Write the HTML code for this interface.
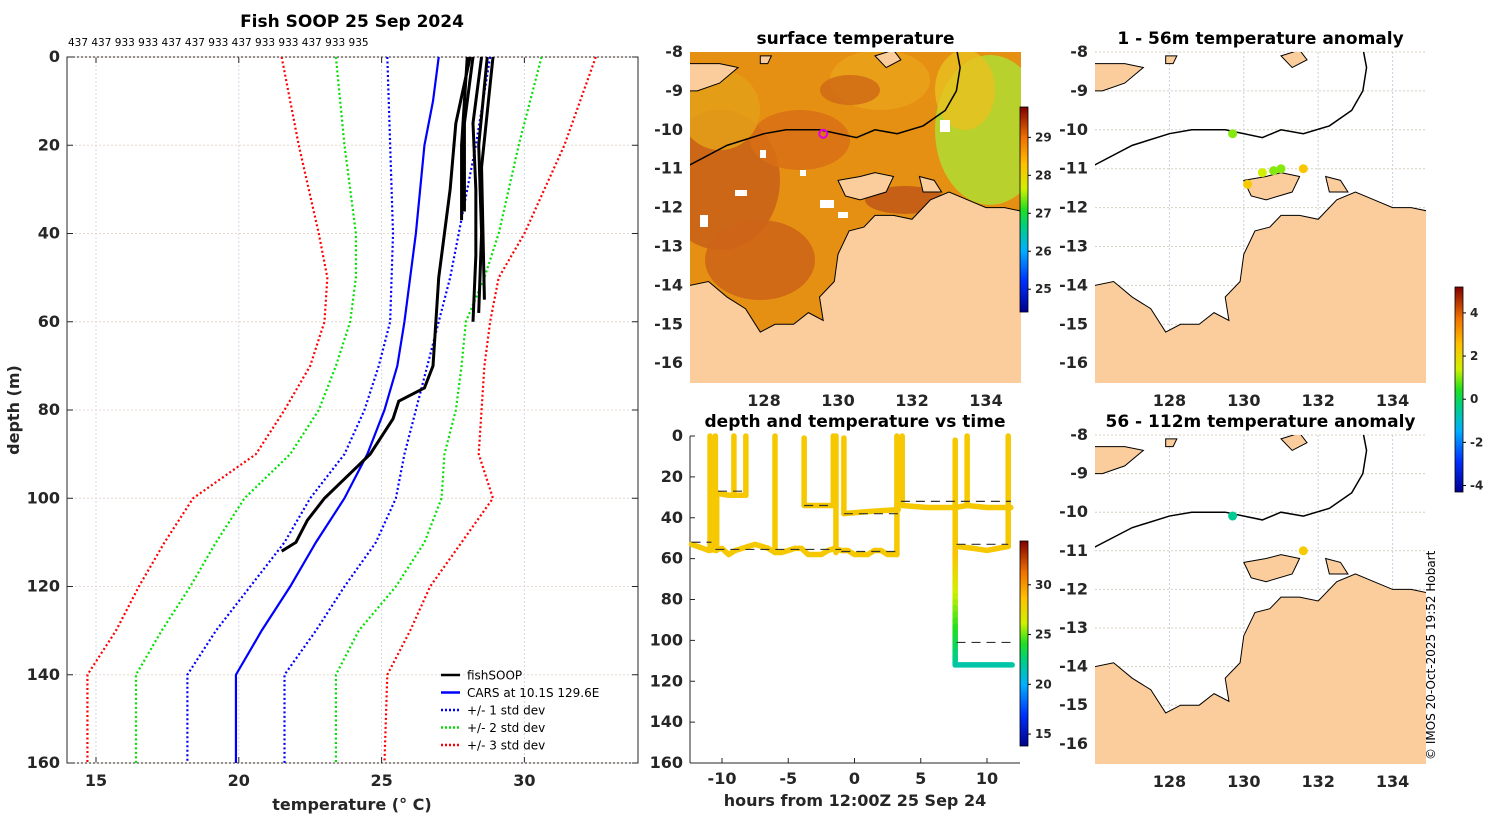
<!DOCTYPE html>
<html><head><meta charset="utf-8"><style>
body{margin:0;background:#fff;}
svg{font-family:"DejaVu Sans","Liberation Sans",sans-serif;}
.t{font-size:16px;font-weight:bold;fill:#262626;}
.ti{font-size:17px;font-weight:bold;fill:#000;}
.cb{font-size:12px;font-weight:bold;fill:#262626;}
</style></head><body>
<svg id="fig" width="1500" height="820" viewBox="0 0 1500 820">
<defs>
<linearGradient id="jet" x1="0" y1="1" x2="0" y2="0">
<stop offset="0" stop-color="#00008f"/><stop offset="0.15" stop-color="#0030ff"/><stop offset="0.3" stop-color="#00b0ff"/><stop offset="0.42" stop-color="#00d080"/><stop offset="0.5" stop-color="#20e020"/><stop offset="0.6" stop-color="#d0f000"/><stop offset="0.72" stop-color="#ffc000"/><stop offset="0.85" stop-color="#f07000"/><stop offset="1" stop-color="#800000"/>
</linearGradient>
<clipPath id="cm1"><rect x="690" y="52" width="331" height="331"/></clipPath>
<clipPath id="cm2"><rect x="1095" y="52" width="331" height="331"/></clipPath>
<clipPath id="cm3"><rect x="1095" y="435" width="331" height="329"/></clipPath>
</defs>
<g id="left"></g>
<g id="map1"></g>
<g id="map2"></g>
<g id="map3"></g>
<g id="tdp"></g>
<text x="1435" y="760" transform="rotate(-90 1435 760)" style="font-size:12px;fill:#000">© IMOS 20-Oct-2025 19:52 Hobart</text>
</svg>
<script>
// ---- profile data (depth m, temperature °C)
const depths=[0,10,20,30,40,50,60,70,80,90,100,110,120,130,140,150,160];
const carsMean=[27.0,26.8,26.5,26.35,26.2,26.0,25.8,25.55,25.1,24.5,23.7,22.7,21.8,20.8,19.9,19.9,19.9];
const minus1=[25.2,25.25,25.3,25.35,25.4,25.35,25.3,24.9,24.4,23.7,22.5,21.6,20.4,19.2,18.2,18.2,18.2];
const plus1=[28.8,28.55,28.3,28.0,27.7,27.4,27.0,26.6,26.2,25.8,25.5,24.8,23.7,22.7,21.6,21.6,21.6];
const minus2=[23.4,23.55,23.7,23.9,24.1,24.1,23.9,23.4,22.8,21.8,20.2,19.2,18.3,17.3,16.4,16.4,16.4];
const plus2=[30.6,30.2,29.8,29.45,29.1,28.6,27.95,27.8,27.6,27.2,27.1,26.5,25.5,24.2,23.4,23.4,23.4];
const minus3=[21.5,21.8,22.1,22.45,22.8,23.1,23.0,22.5,21.6,20.6,18.4,17.4,16.5,15.7,14.7,14.7,14.7];
const plus3=[32.5,31.95,31.4,30.7,30.0,29.1,28.8,28.6,28.5,28.4,28.9,27.8,26.7,26.0,25.2,25.15,25.1];
const fishDeep=[[0,28.1],[15,27.6],[30,27.4],[40,27.2],[50,27.0],[60,26.9],[70,26.8],[75,26.5],[78,25.6],[82,25.4],[90,24.6],[95,23.8],[100,23.0],[105,22.4],[110,22.0],[112,21.5]];
const fishShallow=[[[0,28.0],[10,27.9],[20,27.8],[30,27.8],[37,27.8]],[[0,28.5],[15,28.2],[30,28.3],[45,28.3],[60,28.2]],[[0,28.7],[20,28.4],[40,28.5],[58,28.4]],[[0,28.2],[15,27.9],[35,27.9]],[[0,28.9],[25,28.5],[55,28.6]]];
const headerIds="437 437 933 933 437 437 933 437 933 933 437 933 935";
const tempTicks=[15,20,25,30];
const depthTicks=[0,20,40,60,80,100,120,140,160];
// ---- depth vs time data (hours, depth)
const traceMain=[[-12.3,53],[-11,56],[-10,55],[-9.5,58],[-9,56],[-8,54],[-7.5,53],[-6.5,55],[-6,57],[-5.5,57],[-4.5,55],[-4,55],[-3.5,58],[-2.5,58],[-2,56],[-1.5,55],[-1,56],[-0.5,56],[0,58],[1,58],[1.5,56],[2,56],[2.5,58],[3.2,58]];
const traceSpikes=[[-10.9,0,56],[-10.5,0,56],[-6,0,57],[-1.4,0,57],[3.2,0,58],[3.6,0,34],[-9.1,0,29],[-8.2,0,29],[-10.4,28,56],[-3.8,1,34],[-1.6,0,34],[-0.8,1,38],[8.5,0,34],[11.6,0,54],[7.6,2,57]];
const traceShelf=[[[-10.4,28],[-9.5,29],[-8.2,29]],[[-3.8,34],[-2.5,34],[-1.6,34]],[[-0.8,38],[1,37],[3.3,36]],[[3.6,34],[5.5,35],[7.6,35],[8.5,34],[10,35],[11.8,35]],[[7.7,54],[9,55],[10,56],[11.6,54]]];
const traceDeep=[[7.6,57],[7.6,112],[11.9,112]];
const dashLines=[[-12.3,-10.8,52],[-10.3,-8.3,27],[-10.5,-1,55.5],[-1,3.2,56.5],[-3.8,-2,34],[-0.8,3.3,38],[3.5,11.8,32],[7.7,11.6,53],[7.7,11.8,101]];
const hourTicks=[-10,-5,0,5,10];
// ---- map data (lon, lat)
const mainland=[[125.5,-14.1],[126.5,-13.9],[127.0,-14.3],[127.5,-14.6],[127.9,-15.2],[128.3,-15.0],[128.8,-15.0],[129.2,-14.7],[129.6,-14.9],[129.5,-14.3],[129.9,-13.9],[130.0,-13.2],[130.3,-12.6],[130.7,-12.5],[131.0,-12.2],[131.5,-12.2],[132.0,-12.3],[132.5,-11.8],[133.0,-11.6],[133.5,-11.8],[134.0,-12.0],[134.5,-12.0],[135,-12.1],[135,-17],[125.5,-17]];
const tiwi=[[130.0,-11.3],[130.6,-11.2],[131.0,-11.1],[131.5,-11.2],[131.3,-11.6],[130.6,-11.8],[130.2,-11.7]];
const cobourg=[[132.2,-11.2],[132.6,-11.3],[132.8,-11.6],[132.3,-11.6]];
const timor=[[125.5,-8.3],[126.8,-8.3],[127.3,-8.4],[126.8,-8.8],[126.2,-9.0],[125.5,-9.0]];
const islands=[[[127.9,-8.1],[128.2,-8.1],[128.1,-8.3],[127.9,-8.3]],[[131.0,-8.1],[131.5,-7.95],[131.7,-8.2],[131.3,-8.4]]];
const bathy=[[125.5,-11.0],[126,-10.9],[127,-10.4],[128,-10.1],[128.6,-10.0],[129.5,-10.0],[130.5,-10.2],[131.0,-10.0],[131.6,-10.1],[132.3,-9.9],[132.9,-9.5],[133.2,-9.0],[133.3,-8.4],[133.2,-7.9]];
const anomTop=[[129.7,-10.1,1.0],[130.1,-11.4,2.3],[130.5,-11.1,1.4],[130.8,-11.05,1.0],[131.0,-11.0,1.0],[131.6,-11.0,2.4]];
const anomBot=[[129.7,-10.1,-0.5],[131.6,-11.0,2.3]];
const lonTicks=[128,130,132,134];
const latTicks=[-8,-9,-10,-11,-12,-13,-14,-15,-16];
const sstTicks=[29,28,27,26,25];
const anomTicks=[4,2,0,-2,-4];
const tdTicks=[30,25,20,15];

const NS="http://www.w3.org/2000/svg";
function E(tag,attrs,parent,txt){const e=document.createElementNS(NS,tag);for(const k in attrs)e.setAttribute(k,attrs[k]);if(txt!==undefined)e.textContent=txt;parent.appendChild(e);return e;}
function jet(v,lo,hi){const t=Math.max(0,Math.min(1,(v-lo)/(hi-lo)));const st=[[0,[0,0,143]],[.15,[0,48,255]],[.3,[0,176,255]],[.42,[0,208,128]],[.5,[32,224,32]],[.6,[208,240,0]],[.72,[255,192,0]],[.85,[240,112,0]],[1,[128,0,0]]];for(let i=1;i<st.length;i++){if(t<=st[i][0]){const a=st[i-1],b=st[i],f=(t-a[0])/(b[0]-a[0]);return 'rgb('+a[1].map((c,j)=>Math.round(c+(b[1][j]-c)*f)).join(',')+')';}}return 'rgb(128,0,0)';}

// ===== LEFT PANEL
(function(){
const g=document.getElementById('left');
const X0=67,X1=638,Y0=57,Y1=763;
const xT=t=>96+(t-15)*28.56, yD=d=>Y0+d*(Y1-Y0)/160;
E('text',{x:352,y:27,'text-anchor':'middle',class:'ti',},g,'Fish SOOP 25 Sep 2024');
E('text',{x:68,y:46,style:'font-size:10.5px;fill:#000',},g,headerIds);
E('rect',{x:X0,y:Y0,width:X1-X0,height:Y1-Y0,fill:'#fff',stroke:'#262626','stroke-width':1,},g);
tempTicks.forEach(t=>{const x=xT(t);
 E('line',{x1:x,y1:Y0,x2:x,y2:Y1,stroke:'#d0d8e8','stroke-width':1,'stroke-dasharray':'2 2'},g);
 E('line',{x1:x,y1:Y1,x2:x,y2:Y1-6,stroke:'#262626'},g);E('line',{x1:x,y1:Y0,x2:x,y2:Y0+6,stroke:'#262626'},g);
 const tl=E('text',{x:x,y:Y1+23,'text-anchor':'middle',class:'t'},g,String(t));
 
 });
depthTicks.forEach(d=>{const y=yD(d);
 E('line',{x1:X0,y1:y,x2:X1,y2:y,stroke:'#e8d8d0','stroke-width':1,'stroke-dasharray':'2 2'},g);
 E('line',{x1:X0,y1:y,x2:X0+6,y2:y,stroke:'#262626'},g);E('line',{x1:X1,y1:y,x2:X1-6,y2:y,stroke:'#262626'},g);
 const tl=E('text',{x:X0-7,y:y+5,'text-anchor':'end',class:'t'},g,String(d));
 
 });
E('text',{x:352,y:810,'text-anchor':'middle',class:'t',},g,'temperature (\u00B0 C)');
E('text',{x:19,y:410,'text-anchor':'middle',class:'t',transform:'rotate(-90 19 410)',},g,'depth (m)');
const prof=(arr,col,dash,w,name)=>{const p=E('polyline',{points:arr.map((t,i)=>xT(t)+','+yD(depths[i])).join(' '),fill:'none',stroke:col,'stroke-width':w,'stroke-dasharray':dash||'none'},g);
 
 };
prof(minus3,'#ff0000','2 2.5',2.2,'minus-3-std-line');prof(plus3,'#ff0000','2 2.5',2.2,'plus-3-std-line');
prof(minus2,'#00e000','2 2.5',2.2,'minus-2-std-line');prof(plus2,'#00e000','2 2.5',2.2,'plus-2-std-line');
prof(minus1,'#0000ff','2 2.5',2.2,'minus-1-std-line');prof(plus1,'#0000ff','2 2.5',2.2,'plus-1-std-line');
prof(carsMean,'#0000ff',null,2.2,'cars-mean-line');
fishShallow.concat([fishDeep]).forEach(a=>{const p=E('polyline',{points:a.map(q=>xT(q[1])+','+yD(q[0])).join(' '),fill:'none',stroke:'#000','stroke-width':3},g);
 
 });
const leg=[['#000',null,'fishSOOP'],['#0000ff',null,'CARS at 10.1S 129.6E'],['#0000ff','2 2','+/- 1 std dev'],['#00e000','2 2','+/- 2 std dev'],['#ff0000','2 2','+/- 3 std dev']];
const lg=E('g',{},g);
leg.forEach((l,i)=>{const y=675+i*17.5;E('line',{x1:441,y1:y,x2:460,y2:y,stroke:l[0],'stroke-width':2.5,'stroke-dasharray':l[1]||'none'},lg);
 const t=E('text',{x:467,y:y+4.5,style:'font-size:12px;fill:#000'},lg,l[2]);
 
 });
})();

// ===== MAPS
function mapAxes(g,X0,Y0,W,H,pxLon,pxLat,lon0,title,clip){
 const xL=lo=>X0+(lo-126)*pxLon, yL=la=>Y0+(-8-la)*pxLat;
 E('text',{x:X0+W/2,y:Y0-8,'text-anchor':'middle',class:'ti',},g,title);
 return {xL,yL};
}
function drawGeo(g,xL,yL,clip,landCol){
 const cg=E('g',{'clip-path':'url(#'+clip+')'},g);
 const poly=(a,name,fill)=>{const p=E('polygon',{points:a.map(q=>xL(q[0])+','+yL(q[1])).join(' '),fill:fill,stroke:'#000','stroke-width':1},cg);
  
  };
 poly(mainland,'mainland',landCol);poly(tiwi,'tiwi-islands',landCol);poly(cobourg,'cobourg-peninsula',landCol);poly(timor,'timor',landCol);
 islands.forEach(a=>poly(a,'island',landCol));
 const b=E('polyline',{points:bathy.map(q=>xL(q[0])+','+yL(q[1])).join(' '),fill:'none',stroke:'#000','stroke-width':1.5},cg);
 
 
 return cg;
}
function ticks(g,xL,yL,X0,Y0,W,H,grid){
 lonTicks.forEach(lo=>{const x=xL(lo);if(grid)E('line',{x1:x,y1:Y0,x2:x,y2:Y0+H,stroke:'#c8d0e0','stroke-dasharray':'2 2'},g);
  const t=E('text',{x:x,y:Y0+H+23,'text-anchor':'middle',class:'t'},g,String(lo));
  
  });
 latTicks.forEach(la=>{const y=yL(la);if(grid)E('line',{x1:X0,y1:y,x2:X0+W,y2:y,stroke:'#d8d0c0','stroke-dasharray':'2 2'},g);
  const t=E('text',{x:X0-7,y:y+5,'text-anchor':'end',class:'t'},g,String(la));
  
  });
}
function colorbar(g,x,y,w,h,ticksArr,lo,hi,name){
 const cb=E('g',{},g);
 E('rect',{x:x,y:y,width:w,height:h,fill:'url(#jet)',stroke:'#000','stroke-width':0.8},cb);
 ticksArr.forEach(v=>{const yy=y+h-(v-lo)/(hi-lo)*h;E('line',{x1:x+w,y1:yy,x2:x+w+3,y2:yy,stroke:'#000'},cb);
  const t=E('text',{x:x+w+7,y:yy+4,class:'cb'},cb,String(v));
  
  });
}
const LAND='#fbcd9c';
(function(){ // SST map
 const g=document.getElementById('map1');
 const X0=690,Y0=52,W=331,H=331;const {xL,yL}=mapAxes(g,X0,Y0,W,H,37,38.9,126,'surface temperature','cm1');
 const cg=E('g',{'clip-path':'url(#cm1)'},g);
 E('rect',{x:X0,y:Y0,width:W,height:H,fill:'#e59012',},cg);
 [[720,180,60,70,'#c8601a'],[760,260,55,40,'#cc6418'],[800,140,50,30,'#d87015'],[720,110,40,40,'#e4a018'],[880,80,50,30,'#eaa21a'],[905,200,40,14,'#c05818'],[850,90,30,15,'#d06a16']].forEach(e=>E('ellipse',{cx:e[0],cy:e[1],rx:e[2],ry:e[3],fill:e[4],opacity:0.85},cg));
 E('ellipse',{cx:990,cy:130,rx:55,ry:75,fill:'#b4d830',opacity:0.9},cg);
 E('ellipse',{cx:965,cy:90,rx:30,ry:40,fill:'#e8c020',opacity:0.8},cg);
 [[700,215,8,12],[735,190,12,6],[760,150,6,8],[820,200,14,8],[838,212,10,6],[940,120,10,12],[800,170,6,6]].forEach(r=>E('rect',{x:r[0],y:r[1],width:r[2],height:r[3],fill:'#fff'},cg));
 drawGeo(g,xL,yL,'cm1',LAND);
 E('circle',{cx:xL(129.6),cy:yL(-10.1),r:4,fill:'none',stroke:'#e000e0','stroke-width':2,},g);
 ticks(g,xL,yL,X0,Y0,W,H,false);
 colorbar(g,1020,107,8,205,sstTicks,24.4,29.8,'sst-colorbar');
})();
function anomMap(id,X0,Y0,H,pxLat,title,clip,pts,withBar){
 const g=document.getElementById(id);const W=331;
 const {xL,yL}=mapAxes(g,X0,Y0,W,H,37.2,pxLat,126,title,clip);
 ticks(g,xL,yL,X0,Y0,W,H,true);
 drawGeo(g,xL,yL,clip,LAND);
 pts.forEach(p=>{const c=E('circle',{cx:xL(p[0]),cy:yL(p[1]),r:4.5,fill:jet(p[2],-4.3,5.2)},g);
  
  });
 if(withBar)colorbar(g,1455,287,8,205,anomTicks,-4.3,5.2,'anomaly-colorbar');
}
anomMap('map2',1095,52,331,38.9,'1 - 56m temperature anomaly','cm2',anomTop,true);
anomMap('map3',1095,435,329,38.6,'56 - 112m temperature anomaly','cm3',anomBot,false);

// ===== DEPTH vs TIME
(function(){
 const g=document.getElementById('tdp');
 const X0=690,X1=1020,Y0=436,Y1=763;
 const xH=h=>854.5+h*13.25, yD=d=>Y0+d*(Y1-Y0)/160;
 E('text',{x:855,y:427,'text-anchor':'middle',class:'ti',},g,'depth and temperature vs time');
 E('line',{x1:X0,y1:Y0,x2:X0,y2:Y1,stroke:'#262626'},g);E('line',{x1:X0,y1:Y1,x2:X1,y2:Y1,stroke:'#262626'},g);
 hourTicks.forEach(h=>{const x=xH(h);E('line',{x1:x,y1:Y1,x2:x,y2:Y1-5,stroke:'#262626'},g);
  const t=E('text',{x:x,y:Y1+21,'text-anchor':'middle',class:'t'},g,String(h));
  
  });
 depthTicks.forEach(d=>{const y=yD(d);E('line',{x1:X0,y1:y,x2:X0+5,y2:y,stroke:'#262626'},g);
  const t=E('text',{x:X0-7,y:y+5,'text-anchor':'end',class:'t'},g,String(d));
  
  });
 E('text',{x:855,y:806,'text-anchor':'middle',class:'t',},g,'hours from 12:00Z 25 Sep 24');
 const Y='#f5c800';
 const pl=(a,col,name)=>{const p=E('polyline',{points:a.map(q=>xH(q[0])+','+yD(q[1])).join(' '),fill:'none',stroke:col,'stroke-width':5.5,'stroke-linejoin':'round','stroke-linecap':'round'},g);
  
  };
 pl(traceMain,Y,'depth-trace');
 traceSpikes.forEach(s=>pl([[s[0],s[1]],[s[0],s[2]]],Y,'depth-trace-cast'));
 traceShelf.forEach(a=>pl(a,Y,'depth-trace'));
 const d0=traceDeep;
 for(let d=57;d<112;d+=3){const tC=28.5-(d-57)*0.12;pl([[d0[0][0],d],[d0[0][0],Math.min(d+3,112)]],jet(tC,13.8,34.4),'deep-trace-segment');}
 pl([d0[1],d0[2]],jet(21.7,13.8,34.4),'deep-trace');
 dashLines.forEach(l=>{const ln=E('line',{x1:xH(l[0]),y1:yD(l[2]),x2:xH(l[1]),y2:yD(l[2]),stroke:'#333','stroke-width':1.2,'stroke-dasharray':'9 6'},g);
  
  });
 colorbar(g,1020,541,8,205,tdTicks,13.8,34.4,'time-colorbar');
})();
</script>
</body></html>
